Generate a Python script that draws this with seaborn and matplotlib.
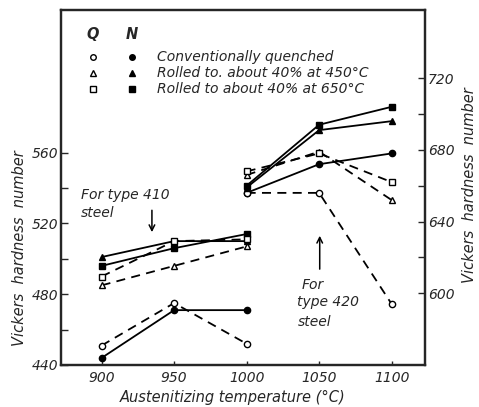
import matplotlib
matplotlib.use("Agg")
import matplotlib.pyplot as plt
import seaborn as sns
import pandas as pd

# ---- data ----
temps_410 = [900, 950, 1000]
temps_420 = [1000, 1050, 1100]

# type 410 steel (left axis)
conv_N_410 = [444, 471, 471]
conv_Q_410 = [451, 475, 452]
r450_N_410 = [501, 510, 510]
r450_Q_410 = [485, 496, 507]
r650_N_410 = [496, 506, 514]
r650_Q_410 = [490, 510, 511]

# type 420 steel (right axis)
conv_N_420 = [656, 672, 678]
conv_Q_420 = [656, 656, 594]
r450_N_420 = [659, 691, 696]
r450_Q_420 = [666, 679, 652]
r650_N_420 = [660, 694, 704]
r650_Q_420 = [668, 678, 662]

x_ticks = [900, 950, 1000, 1050, 1100]
left_ticks = [440, 480, 520, 560]
right_ticks = [600, 640, 680, 720]
legend_labels = ["Conventionally quenched",
                 "Rolled to. about 40% at 450\u00b0C",
                 "Rolled to about 40% at 650\u00b0C"]

sns.set_style("ticks")
plt.rcParams["font.family"] = ["DejaVu Sans"]
plt.rcParams["font.style"] = "italic"

fig = plt.figure(figsize=(4.79, 4.07), dpi=100)
ax = fig.add_axes([61/479, 1-365/407, 364/479, 355/407])
ax2 = ax.twinx()

series_410 = [(conv_N_410, "o", True), (conv_Q_410, "o", False),
              (r450_N_410, "^", True), (r450_Q_410, "^", False),
              (r650_N_410, "s", True), (r650_Q_410, "s", False)]
series_420 = [(conv_N_420, "o", True), (conv_Q_420, "o", False),
              (r450_N_420, "^", True), (r450_Q_420, "^", False),
              (r650_N_420, "s", True), (r650_Q_420, "s", False)]

def draw(axis, xs, ys, marker, filled):
    df = pd.DataFrame({"t": xs, "v": ys})
    sns.lineplot(data=df, x="t", y="v", ax=axis, color="black",
                 linewidth=1.3, linestyle="-" if filled else (0, (5, 3.5)),
                 marker=marker, markersize=4.5,
                 markerfacecolor="black" if filled else "white",
                 markeredgecolor="black", markeredgewidth=1.0,
                 errorbar=None, legend=False)

for ys, m, f in series_410:
    draw(ax, temps_410, ys, m, f)
for ys, m, f in series_420:
    draw(ax2, temps_420, ys, m, f)

ax.set_xlim(872, 1123)
ax.set_ylim(440, 640.6)
ax2.set_ylim(560, 758)

ax.set_xticks(x_ticks)
ax.set_xticklabels([str(v) for v in x_ticks])
ax.set_yticks(left_ticks)
ax.set_yticks([460, 500, 540], minor=True)
ax2.set_yticks(right_ticks)
ax2.set_yticks([620, 660, 700], minor=True)

for a in (ax, ax2):
    for s in a.spines.values():
        s.set_linewidth(1.6)
        s.set_visible(True)
ax.tick_params(axis="y", which="both", direction="in", length=5, width=1.0,
               labelsize=10, pad=2)
ax.tick_params(axis="x", direction="in", length=3, width=1.0, labelsize=10, pad=4)
ax2.tick_params(axis="y", which="both", direction="in", length=5, width=1.0,
                labelsize=10, pad=2)
ax.set_xlabel("")
ax.set_ylabel("")
ax2.set_ylabel("")

fig.text(233/479, 1-397/407, "Austenitizing temperature (\u00b0C)",
         ha="center", va="center", fontsize=10.5, style="italic")
fig.text(20/479, 1-248/407, "Vickers  hardness  number", rotation=90,
         ha="center", va="center", fontsize=10.5, style="italic")
fig.text(470/479, 1-185/407, "Vickers  hardness  number", rotation=90,
         ha="center", va="center", fontsize=10.5, style="italic")

# legend built by hand
ax.text(0.088, 0.930, "Q", transform=ax.transAxes, ha="center", va="center",
        fontsize=10.5, style="italic", fontweight="bold")
ax.text(0.195, 0.930, "N", transform=ax.transAxes, ha="center", va="center",
        fontsize=10.5, style="italic", fontweight="bold")
rows = [0.868, 0.823, 0.777]
for yy, m, lab in zip(rows, ["o", "^", "s"], legend_labels):
    ax.plot([0.088], [yy], transform=ax.transAxes, marker=m, markersize=4,
            mfc="white", mec="black", mew=1.0, ls="none")
    ax.plot([0.195], [yy], transform=ax.transAxes, marker=m, markersize=4,
            mfc="black", mec="black", mew=1.0, ls="none")
    ax.text(0.264, yy, lab, transform=ax.transAxes, ha="left", va="center",
            fontsize=10, style="italic")

# annotations
ax.text(886, 536.1, "For type 410", ha="left", va="center", fontsize=10, style="italic")
ax.text(886, 525.9, "steel", ha="left", va="center", fontsize=10, style="italic")
ax.annotate("", xy=(934.7, 513.5), xytext=(934.7, 529),
            arrowprops=dict(arrowstyle="->", color="black", lw=1.1))
ax.text(1038, 485.2, "For", ha="left", va="center", fontsize=10, style="italic")
ax.text(1034.5, 475.6, "type 420", ha="left", va="center", fontsize=10, style="italic")
ax.text(1035, 464.3, "steel", ha="left", va="center", fontsize=10, style="italic")
ax.annotate("", xy=(1050.4, 514.6), xytext=(1050.4, 492.6),
            arrowprops=dict(arrowstyle="->", color="black", lw=1.1))

fig.savefig("out.png", dpi=100)
